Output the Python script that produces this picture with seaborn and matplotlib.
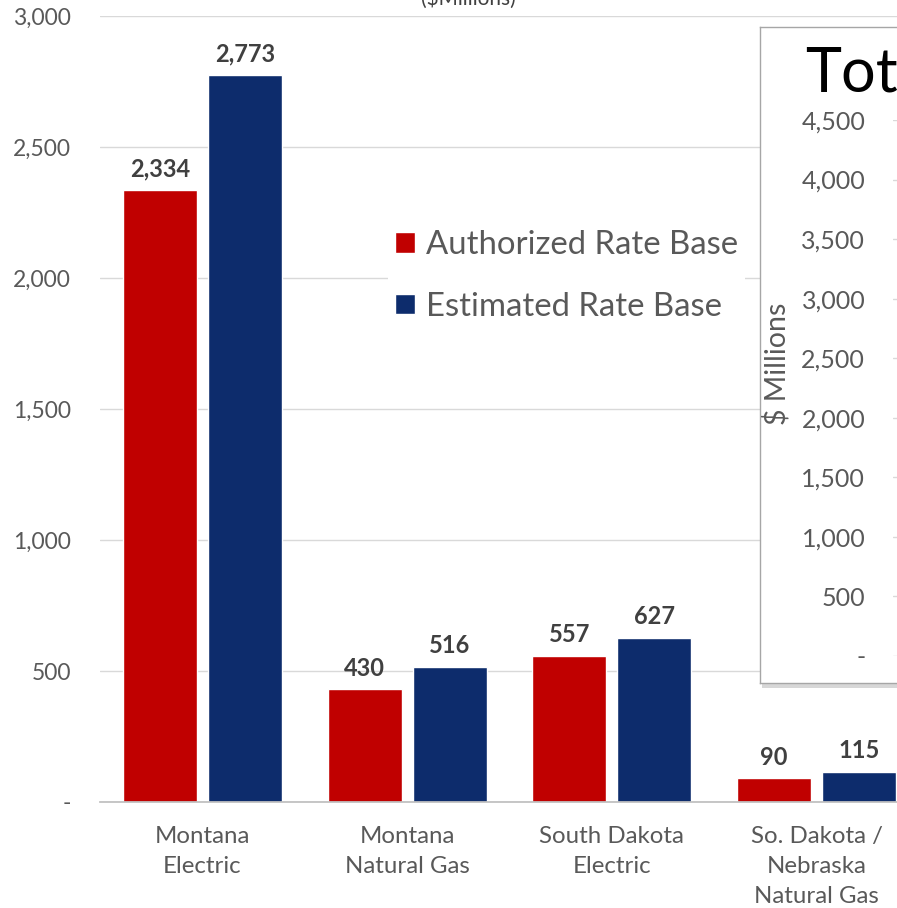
import matplotlib.pyplot as plt
import seaborn as sns
import pandas as pd
from matplotlib.patches import Rectangle

# data
categories = ['Montana\nElectric', 'Montana\nNatural Gas', 'South Dakota\nElectric',
              'So. Dakota /\nNebraska\nNatural Gas']
series = ['Authorized Rate Base', 'Estimated Rate Base']
authorized = [2334, 430, 557, 90]
estimated = [2773, 516, 627, 115]
yticks = [0, 500, 1000, 1500, 2000, 2500, 3000]
ytick_labels = ['-', '500', '1,000', '1,500', '2,000', '2,500', '3,000']
inset_ticks = [0, 500, 1000, 1500, 2000, 2500, 3000, 3500, 4000, 4500]
inset_labels = ['-', '500', '1,000', '1,500', '2,000', '2,500', '3,000', '3,500', '4,000', '4,500']

df = pd.DataFrame({
    'category': categories * 2,
    'series': [series[0]] * len(categories) + [series[1]] * len(categories),
    'value': authorized + estimated,
})

sns.set_theme(style='white')
plt.rcParams['font.family'] = ['Lato', 'DejaVu Sans']

W, H = 897, 908
gray = '#595959'


def fx(px):
    return px / W


def fy(py):
    return 1 - py / H


fig = plt.figure(figsize=(W / 100, H / 100), dpi=100)

# main bar chart
ax = fig.add_axes([fx(100), fy(802), (919 - 100) / W, (802 - 16) / H])
sns.barplot(data=df, x='category', y='value', hue='series',
            palette=['#C00000', '#0D2C6C'], saturation=1,
            width=0.83, gap=0.13, ax=ax)

for cont in ax.containers:
    ax.bar_label(cont, labels=[f'{b.get_height():,.0f}' for b in cont],
                 padding=7, fontsize=17, fontweight='bold', color='#404040')

ax.set_xlim(-0.5, 3.5)
ax.set_ylim(0, 3000)
ax.set_yticks(yticks, ytick_labels)
ax.set_xlabel('')
ax.set_ylabel('')
ax.yaxis.grid(True, color='#D9D9D9', lw=1)
ax.set_axisbelow(True)
for s in ['top', 'right', 'left']:
    ax.spines[s].set_visible(False)
ax.spines['bottom'].set_color('#BFBFBF')
ax.tick_params(axis='y', length=0, pad=21, labelsize=16.5, labelcolor=gray)
ax.tick_params(axis='x', length=0, pad=17, labelsize=17.3, labelcolor=gray)
for t in ax.get_xticklabels():
    t.set_linespacing(1.55)

handles, labels = ax.get_legend_handles_labels()
ax.legend(handles, labels, loc='center left',
          bbox_to_anchor=(fx(372), fy(276)), bbox_transform=fig.transFigure,
          frameon=True, facecolor='white', edgecolor='none', framealpha=1,
          fontsize=23.7, handlelength=0.6, handleheight=0.6, handletextpad=0.34,
          labelspacing=0.95, borderpad=0.2, labelcolor=gray)

# title, cut off at the top
fig.text(fx(468), fy(9), '($Millions)', ha='center', va='bottom',
         fontsize=15, color='#404040')

# overlapping inset panel on the right
shadow = Rectangle((fx(762), fy(688)), 0.5, (683 - 27) / H,
                   transform=fig.transFigure, facecolor='#BDBDBD',
                   edgecolor='none', alpha=0.6, zorder=0.5)
fig.patches.append(shadow)

box = fig.add_axes([fx(760), fy(683), (1000 - 760) / W, (683 - 27) / H])
box.set_zorder(2)
box.set_facecolor('white')
box.set_xticks([])
box.set_yticks([])
for s in box.spines.values():
    s.set_color('#A6A6A6')
    s.set_linewidth(1)

ins = fig.add_axes([fx(893), fy(656), 0.3, (656 - 120) / H])
ins.set_zorder(3)
ins.patch.set_alpha(0)
ins.set_ylim(0, 4500)
ins.set_yticks(inset_ticks, inset_labels)
ins.set_xticks([])
ins.yaxis.grid(True, color='#D9D9D9', lw=1)
for s in ins.spines.values():
    s.set_visible(False)
ins.tick_params(axis='y', length=0, pad=20, labelsize=18, labelcolor=gray)

fig.text(fx(777), fy(364), '$ Millions', rotation=90, ha='center', va='center',
         fontsize=20.5, color=gray, zorder=4)
fig.text(fx(805), fy(74), 'Tot', ha='left', va='center', fontsize=44,
         color='black', zorder=4)

fig.savefig('out.png', dpi=100)
